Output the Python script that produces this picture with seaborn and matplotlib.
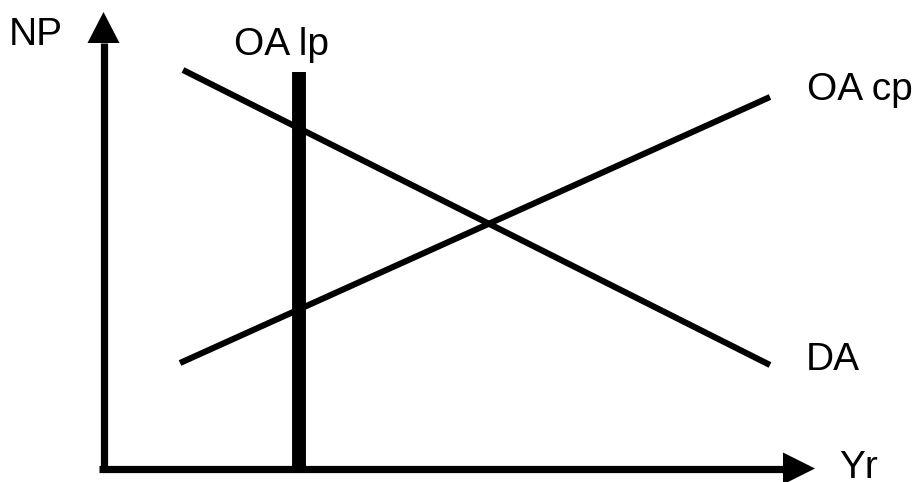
import matplotlib
matplotlib.use("Agg")
import matplotlib.pyplot as plt
import seaborn as sns
import pandas as pd

# ----------------------------------------------------------------------
# Diagram data (canvas units, y grows downward)
# ----------------------------------------------------------------------
da_x = [183, 770]
da_y = [70, 365]
oacp_x = [180, 770]
oacp_y = [363, 97]
oalp_x = [299, 299]
oalp_y = [72, 471]

yaxis_x = [103.5, 103.5]
yaxis_y = [471, 43]
xaxis_x = [99, 783]
xaxis_y = [468.5, 468.5]

labels = ["NP", "OA lp", "OA cp", "DA", "Yr"]
label_x = [9, 234, 807, 806, 839]
label_y = [45, 55, 100, 370, 478]

sns.set_theme(style="white")
plt.rcParams['font.family'] = ['Liberation Sans', 'DejaVu Sans']

fig = plt.figure(figsize=(9.21, 4.82), dpi=100)
ax = fig.add_axes([0, 0, 1, 1])
ax.set_xlim(0, 921)
ax.set_ylim(482, 0)
ax.axis("off")

lines = pd.DataFrame({
    "x": da_x + oacp_x,
    "y": da_y + oacp_y,
    "curve": ["DA"] * 2 + ["OA cp"] * 2,
})
sns.lineplot(data=lines, x="x", y="y", units="curve", estimator=None,
             color="black", linewidth=4.4, ax=ax, solid_capstyle="butt")
sns.lineplot(x=oalp_x, y=oalp_y, color="black", linewidth=10, ax=ax,
             solid_capstyle="butt", estimator=None, sort=False)

# axes with arrow heads
sns.lineplot(x=yaxis_x, y=yaxis_y, color="black", linewidth=5.2, ax=ax,
             solid_capstyle="butt", estimator=None, sort=False)
sns.lineplot(x=xaxis_x, y=xaxis_y, color="black", linewidth=5.2, ax=ax,
             solid_capstyle="butt", estimator=None, sort=False)
head_len, head_w = 31, 32
ax.fill([yaxis_x[1] - head_w / 2, yaxis_x[1] + head_w / 2, yaxis_x[1]],
        [yaxis_y[1], yaxis_y[1], yaxis_y[1] - head_len], color="black", lw=0)
ax.fill([xaxis_x[1], xaxis_x[1], xaxis_x[1] + head_len + 1],
        [xaxis_y[1] - head_w / 2, xaxis_y[1] + head_w / 2, xaxis_y[1]],
        color="black", lw=0)

for txt, tx, ty in zip(labels, label_x, label_y):
    ax.text(tx, ty, txt, fontsize=28, color="black", ha="left", va="baseline")

if ax.get_legend() is not None:
    ax.get_legend().remove()

fig.savefig("out.png", dpi=100, facecolor="white")
